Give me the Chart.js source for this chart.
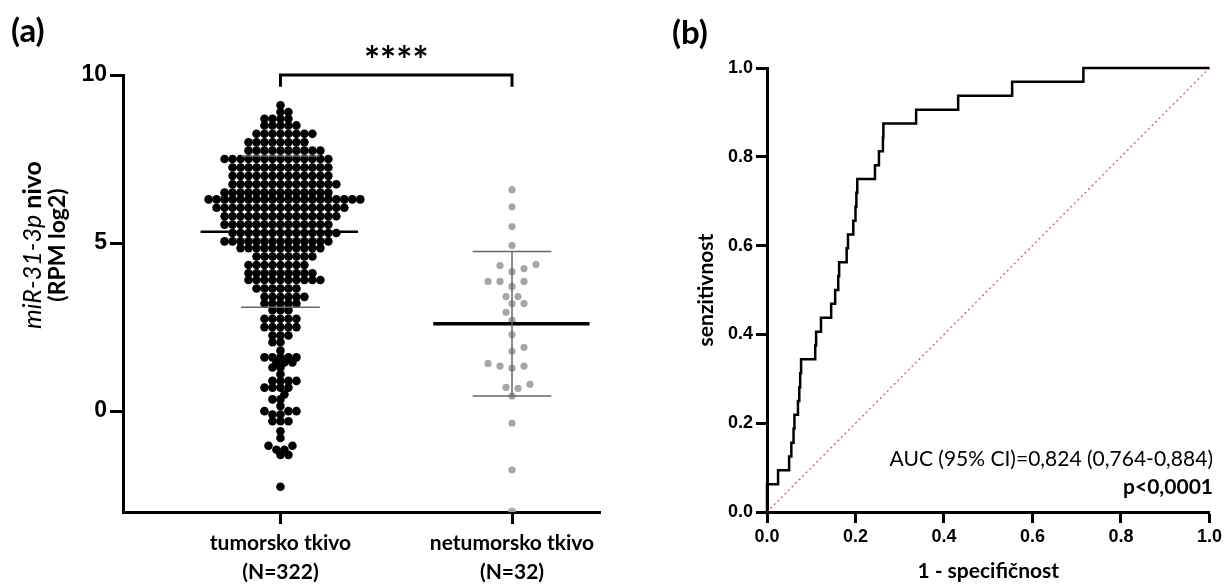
<!DOCTYPE html>
<html>
<head>
<meta charset="utf-8">
<script src="https://cdn.jsdelivr.net/npm/chart.js@4.4.1/dist/chart.umd.min.js"></script>
<style>
  body { margin: 0; background: #fff; width: 1225px; height: 585px; overflow: hidden; position: relative; }
  canvas { position: absolute; top: 0; }
  #chart-a { left: 0; }
  #chart-b { left: 612px; }
</style>
</head>
<body>
<canvas id="chart-a" width="612" height="585"></canvas>
<canvas id="chart-b" width="613" height="585"></canvas>
<script>
// ---- panel (a): miR-31-3p level per tissue
const groupLabels = [["tumorsko tkivo", "(N=322)"], ["netumorsko tkivo", "(N=32)"]];
const levelTicks = [0, 5, 10];

// tumour swarm read row by row: value of the row and how many dots sit in it
const tumorRowValues = [9.1, 8.9, 8.7, 8.5, 8.25, 8.0, 7.75, 7.5, 7.25, 7.0, 6.75, 6.5, 6.3, 6.05, 5.8, 5.55, 5.3, 5.05,
  4.85, 4.6, 4.35, 4.1, 3.9, 3.65, 3.4, 3.2, 3.0, 2.75, 2.5, 2.25, 2.05, 1.8, 1.6, 1.45, 1.3, 1.1, 0.9, 0.7, 0.5, 0.35,
  0.15, 0.0, -0.1, -0.3, -0.6, -0.8, -1.03, -1.15, -1.3, -2.25];
const tumorRowCounts = [1, 2, 4, 5, 8, 8, 10, 14, 13, 13, 14, 14, 20, 17, 15, 14, 14, 14,
  11, 8, 8, 9, 10, 6, 6, 5, 3, 5, 5, 3, 2, 1, 5, 3, 2, 1, 4, 4, 1, 2,
  1, 3, 2, 3, 1, 1, 2, 2, 2, 1];

const normalValues = [6.59, 6.08, 5.49, 4.93, 4.36, 4.33, 4.24, 4.15, 3.86, 3.86, 3.86, 3.71, 3.41, 3.41, 3.2, 3.2,
  2.94, 2.7, 2.28, 1.9, 1.78, 1.42, 1.34, 1.34, 1.28, 0.8, 0.71, 0.68, 0.45, -0.36, -1.75, -2.97];

const tumorMean = 5.34, tumorSd = 2.25;
const normalMean = 2.6, normalSd = 2.15;

// ---- panel (b): ROC curve
const rocFpr = [0, 0, 0.025, 0.05, 0.055, 0.06, 0.062, 0.07, 0.073, 0.075, 0.077, 0.109, 0.111, 0.122, 0.145, 0.154,
  0.161, 0.163, 0.18, 0.183, 0.195, 0.2, 0.202, 0.204, 0.244, 0.253, 0.262, 0.263, 0.337, 0.432, 0.554, 0.715, 1.0];
const rocTpr = [0, 0.0625, 0.094, 0.125, 0.156, 0.1875, 0.219, 0.25, 0.281, 0.3125, 0.344, 0.375, 0.406, 0.4375, 0.469, 0.5,
  0.531, 0.5625, 0.594, 0.625, 0.656, 0.6875, 0.719, 0.75, 0.781, 0.8125, 0.844, 0.875, 0.906, 0.9375, 0.969, 1.0, 1.0];
const rocTicks = [0, 0.2, 0.4, 0.6, 0.8, 1.0];
const aucText = "AUC (95% CI)=0,824 (0,764-0,884)";
const pText = "p<0,0001";

const LABEL_FONT = "Lato, 'Open Sans', sans-serif";
const NUM_FONT = "'Liberation Sans', Arial, sans-serif";

// px per data unit in panel (a), used only to lay the swarm out
const X_PX = 232;
const Y_PX = 33.7;

function swarm(values, center, minDist, step) {
  const placed = [];
  let side = 1;
  const sorted = values.slice().sort((a, b) => a - b);
  return sorted.map((v) => {
    const py = v * Y_PX;
    let off = 0;
    for (let k = 0; k < 300; k++) {
      const tries = k === 0 ? [0] : [side * k * step, -side * k * step];
      const hit = tries.find((t) =>
        placed.every((p) => Math.hypot(p.px - t, p.py - py) >= minDist)
      );
      if (hit !== undefined) {
        off = hit;
        if (k > 0) side = -side;
        break;
      }
    }
    placed.push({ px: off, py: py });
    return { x: center + off / X_PX, y: v };
  });
}

function segment(x1, y1, x2, y2, color, width, order) {
  return {
    type: "scatter",
    data: [{ x: x1, y: y1 }, { x: x2, y: y2 }],
    showLine: true,
    borderColor: color,
    borderWidth: width,
    pointRadius: 0,
    clip: false,
    order: order,
  };
}

const tumorValues = [];
tumorRowValues.forEach((v, i) => {
  for (let n = 0; n < tumorRowCounts[i]; n++) tumorValues.push(v);
});

function axisGrid(len) {
  return { display: true, drawOnChartArea: false, drawTicks: true, tickLength: len, tickWidth: 3, tickColor: "#000" };
}

const textPluginA = {
  id: "textA",
  afterDraw(chart) {
    const ctx = chart.ctx;
    const x = chart.scales.x;
    const y = chart.scales.y;
    ctx.save();
    ctx.fillStyle = "#000";
    ctx.textBaseline = "middle";
    ctx.font = "bold 33px " + LABEL_FONT;
    ctx.textAlign = "left";
    ctx.fillText("(a)", 11, 31);

    ctx.font = "bold 38px " + LABEL_FONT;
    ctx.textAlign = "center";
    ctx.fillText("****", x.getPixelForValue(1.5), y.top - 13);

    // y title, rotated, two lines
    ctx.translate(33, 245);
    ctx.rotate(-Math.PI / 2);
    const italic = "italic 25px " + LABEL_FONT;
    const bold = "bold 25px " + LABEL_FONT;
    ctx.font = italic;
    const w1 = ctx.measureText("miR-31-3p").width;
    ctx.font = bold;
    const w2 = ctx.measureText(" nivo").width;
    let start = -(w1 + w2) / 2;
    ctx.textAlign = "left";
    ctx.font = italic;
    ctx.fillText("miR-31-3p", start, 0);
    ctx.font = bold;
    ctx.fillText(" nivo", start + w1, 0);
    ctx.textAlign = "center";
    ctx.font = "bold 23px " + LABEL_FONT;
    ctx.fillText("(RPM log2)", 0, 25);
    ctx.restore();
  },
};

const chartA = new Chart(document.getElementById("chart-a"), {
  type: "scatter",
  data: {
    datasets: [
      {
        data: swarm(tumorValues, 1, 6, 4),
        backgroundColor: "#000",
        borderWidth: 0,
        pointRadius: 4.3,
        order: 1,
      },
      {
        data: swarm(normalValues, 2, 9, 6),
        backgroundColor: "#a6a6a6",
        borderWidth: 0,
        pointRadius: 3.6,
        order: 1,
      },
      segment(1, tumorMean - tumorSd, 1, tumorMean + tumorSd, "#666", 1.5, 2),
      segment(0.655, tumorMean, 1.335, tumorMean, "#000", 2.5, 0),
      segment(0.83, tumorMean + tumorSd, 1.17, tumorMean + tumorSd, "#666", 1.5, 0),
      segment(0.83, tumorMean - tumorSd, 1.17, tumorMean - tumorSd, "#666", 1.5, 0),
      segment(2, normalMean - normalSd, 2, normalMean + normalSd, "#666", 1.5, 0),
      segment(1.66, normalMean, 2.335, normalMean, "#000", 3.5, 0),
      segment(1.83, normalMean + normalSd, 2.17, normalMean + normalSd, "#666", 1.5, 0),
      segment(1.83, normalMean - normalSd, 2.17, normalMean - normalSd, "#666", 1.5, 0),
      {
        type: "scatter",
        data: [{ x: 1, y: 9.65 }, { x: 1, y: 10 }, { x: 2, y: 10 }, { x: 2, y: 9.65 }],
        showLine: true,
        borderColor: "#000",
        borderWidth: 3,
        pointRadius: 0,
        clip: false,
        order: 0,
      },
    ],
  },
  options: {
    responsive: false,
    animation: false,
    devicePixelRatio: 1,
    layout: { padding: { top: 75, right: 12, left: 0, bottom: 0 } },
    plugins: { legend: { display: false }, tooltip: { enabled: false } },
    scales: {
      x: {
        type: "linear",
        min: 0.32,
        max: 2.38,
        afterBuildTicks: (scale) => {
          scale.ticks = [{ value: 1 }, { value: 2 }];
        },
        afterFit: (scale) => {
          scale.height = 73;
        },
        ticks: {
          callback: (v) => groupLabels[v - 1],
          font: { family: LABEL_FONT, size: 21, weight: "bold", lineHeight: 1.38 },
          color: "#000",
          padding: 5,
          maxRotation: 0,
        },
        grid: axisGrid(12),
        border: { display: true, width: 3, color: "#000" },
      },
      y: {
        min: -3,
        max: 10,
        afterBuildTicks: (scale) => {
          scale.ticks = levelTicks.map((v) => ({ value: v }));
        },
        afterFit: (scale) => {
          scale.width = 123;
        },
        ticks: {
          font: { family: NUM_FONT, size: 23, weight: "bold" },
          color: "#000",
          padding: 3,
        },
        grid: axisGrid(13),
        border: { display: true, width: 3, color: "#000" },
      },
    },
  },
  plugins: [textPluginA],
});

const textPluginB = {
  id: "textB",
  afterDraw(chart) {
    const ctx = chart.ctx;
    const area = chart.chartArea;
    ctx.save();
    ctx.fillStyle = "#000";
    ctx.textBaseline = "middle";
    ctx.font = "bold 33px " + LABEL_FONT;
    ctx.textAlign = "left";
    ctx.fillText("(b)", 60, 33);

    ctx.font = "21px " + LABEL_FONT;
    ctx.textAlign = "right";
    ctx.fillText(aucText, 601, 459);
    ctx.font = "bold 21px " + LABEL_FONT;
    ctx.fillText(pText, 601, 487);

    ctx.textAlign = "center";
    ctx.font = "bold 21px " + LABEL_FONT;
    ctx.fillText("1 - specifičnost", (area.left + area.right) / 2, 571);

    ctx.translate(94, (area.top + area.bottom) / 2);
    ctx.rotate(-Math.PI / 2);
    ctx.fillText("senzitivnost", 0, 0);
    ctx.restore();
  },
};

const chartB = new Chart(document.getElementById("chart-b"), {
  type: "scatter",
  data: {
    datasets: [
      {
        data: rocFpr.map((x, i) => ({ x: x, y: rocTpr[i] })),
        showLine: true,
        stepped: "before",
        borderColor: "#000",
        borderWidth: 2.5,
        pointRadius: 0,
        clip: false,
        order: 0,
      },
      {
        data: [{ x: 0, y: 0 }, { x: 1, y: 1 }],
        showLine: true,
        borderColor: "#e8505b",
        borderWidth: 1.3,
        borderDash: [2, 3],
        pointRadius: 0,
        clip: false,
        order: 1,
      },
    ],
  },
  options: {
    responsive: false,
    animation: false,
    devicePixelRatio: 1,
    layout: { padding: { top: 68, right: 15, left: 0, bottom: 0 } },
    plugins: { legend: { display: false }, tooltip: { enabled: false } },
    scales: {
      x: {
        type: "linear",
        min: 0,
        max: 1,
        afterBuildTicks: (scale) => {
          scale.ticks = rocTicks.map((v) => ({ value: v }));
        },
        afterFit: (scale) => {
          scale.height = 73;
        },
        ticks: {
          callback: (v) => v.toFixed(1),
          font: { family: NUM_FONT, size: 18, weight: "bold" },
          color: "#000",
          padding: 3,
          maxRotation: 0,
        },
        grid: axisGrid(11),
        border: { display: true, width: 3, color: "#000" },
      },
      y: {
        min: 0,
        max: 1,
        afterBuildTicks: (scale) => {
          scale.ticks = rocTicks.map((v) => ({ value: v }));
        },
        afterFit: (scale) => {
          scale.width = 155;
        },
        ticks: {
          callback: (v) => v.toFixed(1),
          font: { family: NUM_FONT, size: 18, weight: "bold" },
          color: "#000",
          padding: 3,
        },
        grid: axisGrid(11),
        border: { display: true, width: 3, color: "#000" },
      },
    },
  },
  plugins: [textPluginB],
});
</script>
</body>
</html>
